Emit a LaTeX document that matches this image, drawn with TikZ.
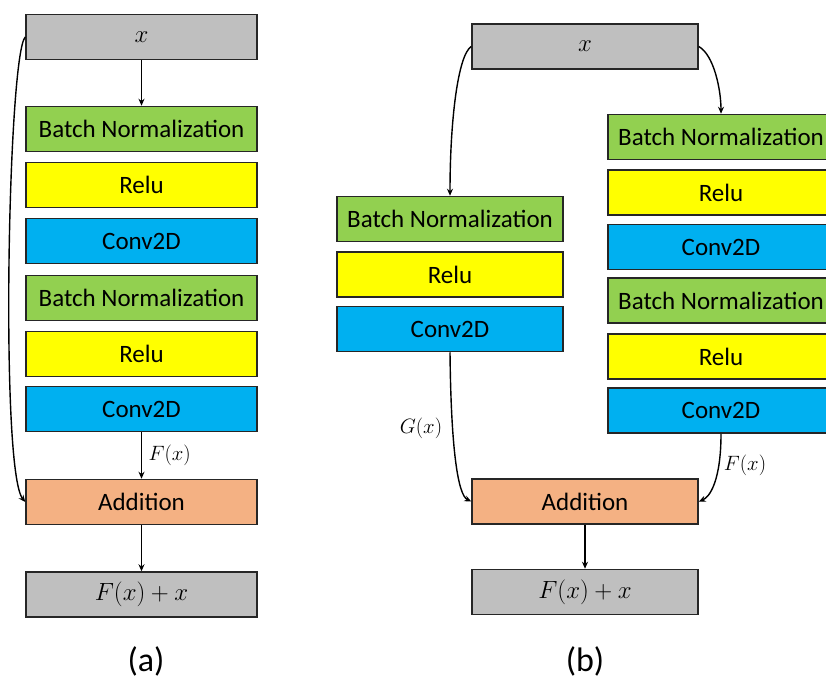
\documentclass[tikz,border=0pt]{standalone}
\usepackage{fontspec}
\setmainfont{Carlito}
\usetikzlibrary{arrows.meta}
\definecolor{boxgray}{HTML}{BFBFBF}
\definecolor{bngreen}{HTML}{92D050}
\definecolor{reluyellow}{HTML}{FFFF00}
\definecolor{convblue}{HTML}{00B0F0}
\definecolor{addorange}{HTML}{F4B183}
\begin{document}
\begin{tikzpicture}[x=1pt,y=-1pt,
  layer/.style={draw=black!85,line width=1.5pt,minimum height=45pt,inner sep=0pt,
    font=\fontsize{25}{28}\selectfont},
  wideA/.style={layer,minimum width=231pt},
  wideB/.style={layer,minimum width=226pt},
  io/.style={fill=boxgray},
  bn/.style={fill=bngreen},
  relu/.style={fill=reluyellow},
  conv/.style={fill=convblue},
  add/.style={fill=addorange},
  link/.style={line width=1.4pt,-{Stealth[length=7pt,width=6pt]}},
  lbl/.style={font=\fontsize{20}{24}\selectfont},
  figcaption/.style={font=\fontsize{34}{38}\selectfont}]
\clip (0,0) rectangle (826,679);
\fill[white] (0,0) rectangle (826,679);

% (a) single residual block
\node[wideA,io]   (xa)    at (141.5,37)  {$x$};
\node[wideA,bn]   (bna1)  at (141.5,129) {Batch Normalization};
\node[wideA,relu] (rea1)  at (141.5,185) {Relu};
\node[wideA,conv] (cva1)  at (141.5,241) {Conv2D};
\node[wideA,bn]   (bna2)  at (141.5,298) {Batch Normalization};
\node[wideA,relu] (rea2)  at (141.5,354) {Relu};
\node[wideA,conv] (cva2)  at (141.5,409) {Conv2D};
\node[wideA,add]  (adda)  at (141.5,502) {Addition};
\node[wideA,io]   (outa)  at (141.5,594.5) {$F(x)+x$};
\node[figcaption] (capa) at (146,661) {(a)};

\draw[link] (xa) -- (bna1);
\draw[link] (cva2) -- node[lbl,right=3pt] {$F(x)$} (adda);
\draw[link] (adda) -- (outa);
\draw[link] (xa.west) .. controls (8,55) and (0,470) .. (adda.west);

% (b) two parallel branches
\node[wideB,io]   (xb)    at (585,46.5)  {$x$};
\node[wideB,bn]   (bnl)   at (450,219)   {Batch Normalization};
\node[wideB,relu] (rel)   at (450,274.5) {Relu};
\node[wideB,conv] (cvl)   at (450,329)   {Conv2D};
\node[wideB,bn]   (bnr1)  at (721,137)   {Batch Normalization};
\node[wideB,relu] (rer1)  at (721,192.5) {Relu};
\node[wideB,conv] (cvr1)  at (721,247)   {Conv2D};
\node[wideB,bn]   (bnr2)  at (721,300.5) {Batch Normalization};
\node[wideB,relu] (rer2)  at (721,356.5) {Relu};
\node[wideB,conv] (cvr2)  at (721,410.5) {Conv2D};
\node[wideB,add]  (addb)  at (585,501.5) {Addition};
\node[wideB,io]   (outb)  at (585,592)   {$F(x)+x$};
\node[figcaption] (capb) at (585,661) {(b)};

\draw[link] (xb.west) .. controls (458,55) and (450,120) .. (bnl.north);
\draw[link] (xb.east) .. controls (714,55) and (721,90) .. (bnr1.north);
\draw[link] (cvl.south) .. controls (451,450) and (458,495) .. (addb.west);
\draw[link] (cvr2.south) .. controls (721,480) and (710,497) .. (addb.east);
\node[lbl] (gx) at (421,428) {$G(x)$};
\node[lbl] (fx) at (745,465) {$F(x)$};
\draw[link] (addb) -- (outb);
\end{tikzpicture}
\end{document}
